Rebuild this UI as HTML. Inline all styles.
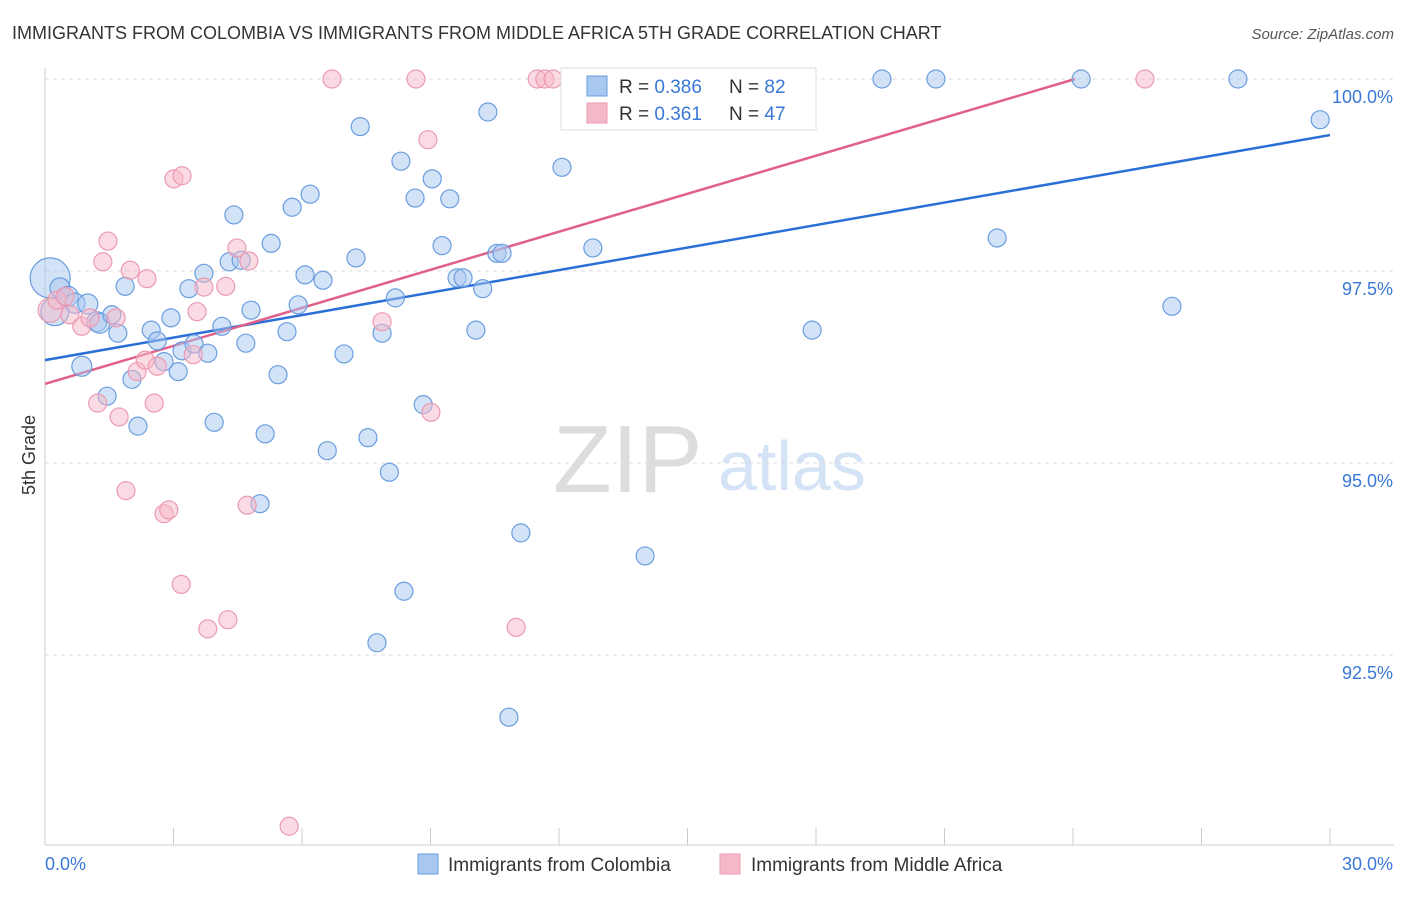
<!DOCTYPE html>
<html><head><meta charset="utf-8"><style>
body{margin:0;background:#fff;font-family:"Liberation Sans",sans-serif;}
svg text{font-family:"Liberation Sans",sans-serif;}
</style></head><body>
<svg id="chart" width="1406" height="892">
<text x="12" y="39" font-size="18" fill="#333">IMMIGRANTS FROM COLOMBIA VS IMMIGRANTS FROM MIDDLE AFRICA 5TH GRADE CORRELATION CHART</text>
<text x="1394" y="39" font-size="15" fill="#555" font-style="italic" text-anchor="end">Source: ZipAtlas.com</text>
<text x="35" y="455" font-size="18" fill="#333" transform="rotate(-90 35 455)" text-anchor="middle">5th Grade</text>
<g>
<text x="553" y="492" font-size="96" fill="#ddd" font-family="Liberation Serif,serif">ZIP</text>
<text x="718" y="490" font-size="70" fill="#d4e3f5">atlas</text>
</g>
<g id="grid"></g><g id="axes"></g><g id="trend"></g><g id="pts"></g>
<g>
<rect x="561" y="68" width="255" height="62" fill="#fff" stroke="#ddd"/>
<rect x="587" y="76" width="20" height="20" fill="#a8c8f0" stroke="#6a9de0"/>
<text x="619" y="93" font-size="19" fill="#333">R = <tspan fill="#3a78d8">0.386</tspan></text>
<text x="729" y="93" font-size="19" fill="#333">N = <tspan fill="#3a78d8">82</tspan></text>
<rect x="587" y="103" width="20" height="20" fill="#f5b8c8" stroke="#eb9ab2"/>
<text x="619" y="120" font-size="19" fill="#333">R =  <tspan fill="#3a78d8">0.361</tspan></text>
<text x="729" y="120" font-size="19" fill="#333">N = <tspan fill="#3a78d8">47</tspan></text>
</g>
<g>
<rect x="418" y="854" width="20" height="20" fill="#a8c8f0" stroke="#6a9de0"/>
<text x="448" y="871" font-size="19" fill="#333">Immigrants from Colombia</text>
<rect x="720" y="854" width="20" height="20" fill="#f5b8c8" stroke="#eb9ab2"/>
<text x="751" y="871" font-size="19" fill="#333">Immigrants from Middle Africa</text>
</g>
</svg>
<script>
const yTicks=[100,97.5,95,92.5];
const yTickLabels=["100.0%","97.5%","95.0%","92.5%"];
const xTickCount=10;
const xLabels=["0.0%","30.0%"];
const blueX=[0.12,0.23,0.35,0.54,0.70,1.00,0.86,1.21,1.28,1.56,1.70,1.87,1.45,2.03,2.17,2.48,2.62,2.78,2.94,3.11,3.20,3.36,3.48,3.71,3.80,3.95,4.13,4.30,4.41,4.58,4.69,4.81,5.02,5.14,5.28,5.44,5.65,5.77,5.91,6.07,6.19,6.49,6.59,6.98,7.26,7.36,7.54,7.75,7.87,8.04,8.18,8.31,8.38,8.64,8.83,9.04,9.27,9.45,9.62,9.76,10.06,10.22,10.34,10.55,10.67,10.83,11.11,12.07,12.79,14.01,13.80,15.29,17.91,19.54,20.80,22.23,24.19,26.31,27.85,29.77];
const blueY=[97.41,96.97,97.28,97.17,97.08,97.07,96.26,96.84,96.82,96.93,96.69,97.30,95.87,96.09,95.48,96.73,96.59,96.32,96.89,96.19,96.46,97.27,96.55,97.47,96.43,95.53,96.78,97.62,98.23,97.64,96.56,96.99,94.47,95.38,97.86,96.15,96.71,98.33,97.06,97.45,98.50,97.38,95.16,96.42,97.67,99.38,95.33,92.66,96.69,94.88,97.15,98.93,93.33,98.45,95.76,98.70,97.83,98.44,97.41,97.41,96.73,97.27,99.57,97.73,97.73,91.69,94.09,98.85,97.80,93.79,100,100,96.73,100,100,97.93,100,97.04,100,99.47];
const blueR=[20,14,10,10,10,10,10,10,10,9,9,9,9,9,9,9,9,9,9,9,9,9,9,9,9,9,9,9,9,9,9,9,9,9,9,9,9,9,9,9,9,9,9,9,9,9,9,9,9,9,9,9,9,9,9,9,9,9,9,9,9,9,9,9,9,9,9,9,9,9,9,9,9,9,9,9,9,9,9,9];
const pinkX=[0.12,0.28,0.47,0.58,0.86,1.05,1.23,1.35,1.47,1.66,1.73,1.89,1.99,2.15,2.34,2.38,2.55,2.62,2.78,2.89,3.01,3.20,3.18,3.46,3.55,3.71,3.80,4.22,4.27,4.48,4.76,4.72,5.70,6.70,7.87,8.66,8.94,9.01,11.00,11.49,11.67,11.86,25.68];
const pinkY=[96.99,97.12,97.17,96.93,96.78,96.89,95.78,97.62,97.89,96.89,95.60,94.64,97.51,96.19,96.34,97.40,95.78,96.26,94.34,94.39,98.70,98.74,93.42,96.41,96.97,97.29,92.84,97.30,92.96,97.80,97.63,94.45,90.27,100,96.84,100,99.21,95.66,92.86,100,100,100,100];
const blueTrend=[[0,96.34],[30,99.27]];
const pinkTrend=[[0,96.03],[24.05,100]];
const X=v=>45+v/30*1285, Y=v=>79+(100-v)*76.8;
const NS="http://www.w3.org/2000/svg";
function mk(t,a,p){const e=document.createElementNS(NS,t);for(const k in a)e.setAttribute(k,a[k]);document.getElementById(p).appendChild(e);return e;}
yTicks.forEach((t,i)=>{
 const l=mk('line',{x1:45,x2:1394,y1:Y(t),y2:Y(t),stroke:'#ddd','stroke-dasharray':'4,4'},'grid');
 
 
 const tx=mk('text',{x:1393,y:Y(t)+24,'font-size':18,fill:'#3a78d8','text-anchor':'end'},'grid');
 tx.textContent=yTickLabels[i];
 
 
});
const la=mk('line',{x1:45,x2:45,y1:68,y2:845,stroke:'#ccc'},'axes');


const lb=mk('line',{x1:45,x2:1394,y1:845,y2:845,stroke:'#ccc'},'axes');


for(let i=0;i<=xTickCount;i++){
 const t=mk('line',{x1:X(i*3),x2:X(i*3),y1:828,y2:845,stroke:'#ccc'},'axes');
 
 
}
const x0=mk('text',{x:45,y:870,'font-size':18,fill:'#3a78d8'},'axes');x0.textContent=xLabels[0];


const x1=mk('text',{x:1393,y:870,'font-size':18,fill:'#3a78d8','text-anchor':'end'},'axes');x1.textContent=xLabels[1];


blueX.forEach((v,i)=>{
 const c=mk('circle',{cx:X(v),cy:Y(blueY[i]),r:blueR[i],fill:'rgba(168,200,240,0.5)',stroke:'#6a9de0','stroke-width':1.2},'pts');
 
 
});
pinkX.forEach((v,i)=>{
 const c=mk('circle',{cx:X(v),cy:Y(pinkY[i]),r:i==0?12:9,fill:'rgba(245,184,200,0.5)',stroke:'#eb9ab2','stroke-width':1.2},'pts');
 
 
});
const bt=mk('line',{x1:X(blueTrend[0][0]),y1:Y(blueTrend[0][1]),x2:X(blueTrend[1][0]),y2:Y(blueTrend[1][1]),stroke:'#2a6fd6','stroke-width':2.5},'trend');


const pt=mk('line',{x1:X(pinkTrend[0][0]),y1:Y(pinkTrend[0][1]),x2:X(pinkTrend[1][0]),y2:Y(pinkTrend[1][1]),stroke:'#e0608a','stroke-width':2.5},'trend');


</script>
</body></html>
